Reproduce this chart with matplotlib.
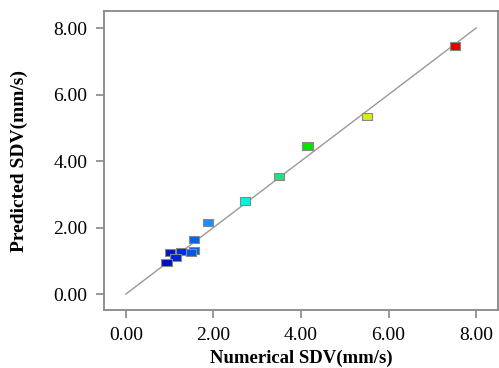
import matplotlib
matplotlib.use("Agg")
import matplotlib.pyplot as plt
import numpy as np
from matplotlib.colors import LinearSegmentedColormap, Normalize
from matplotlib.path import Path

numerical = [7.51, 5.51, 4.15, 3.50, 2.72, 1.88, 1.55, 1.56, 1.48, 1.26, 1.00, 1.13, 0.93]
predicted = [7.46, 5.33, 4.45, 3.53, 2.80, 2.14, 1.65, 1.30, 1.25, 1.27, 1.25, 1.10, 0.94]
fit_line = [0.0, 8.0]
ticks = [0.0, 2.0, 4.0, 6.0, 8.0]
tick_labels = ["0.00", "2.00", "4.00", "6.00", "8.00"]

cmap = LinearSegmentedColormap.from_list(
    "sdv",
    [(0.0, "#0010c0"), (0.05, "#0030e0"), (0.09, "#0060e8"), (0.144, "#1e90ff"),
     (0.272, "#00f5e5"), (0.39, "#20e080"), (0.49, "#00e600"),
     (0.696, "#d8f000"), (1.0, "#e00000")])
norm = Normalize(vmin=0.93, vmax=7.51)
colors = [cmap(norm(v)) for v in numerical]

rect = Path([(-1, -0.7), (1, -0.7), (1, 0.7), (-1, 0.7), (-1, -0.7)],
            [Path.MOVETO, Path.LINETO, Path.LINETO, Path.LINETO, Path.CLOSEPOLY])

fig = plt.figure(figsize=(4.99, 3.68), dpi=100)
ax = fig.add_axes([0.2084, 0.1576, 0.7896, 0.8124])
ax.plot(fit_line, fit_line, color="#999999", lw=1.0, zorder=1)
ax.scatter(numerical, predicted, marker=rect, s=55, c=colors,
           edgecolors="#888888", linewidths=0.8, zorder=3)
ax.set_xlim(-0.5, 8.5)
ax.set_ylim(-0.48, 8.51)
ax.set_xticks(ticks)
ax.set_xticklabels(tick_labels)
ax.set_yticks(ticks)
ax.set_yticklabels(tick_labels)
for sp in ax.spines.values():
    sp.set_color("#888888")
    sp.set_linewidth(1.3)
ax.tick_params(direction="out", length=6, width=1.2, color="#888888",
               labelsize=14, pad=6)
for lab in ax.get_xticklabels() + ax.get_yticklabels():
    lab.set_fontfamily("Liberation Serif")
ax.set_xlabel("Numerical SDV(mm/s)", fontfamily="Liberation Serif",
              fontweight="bold", fontsize=13.5, labelpad=4)
ax.set_ylabel("Predicted SDV(mm/s)", fontfamily="Liberation Serif",
              fontweight="bold", fontsize=14, labelpad=18)
fig.savefig("out.png", dpi=100)
